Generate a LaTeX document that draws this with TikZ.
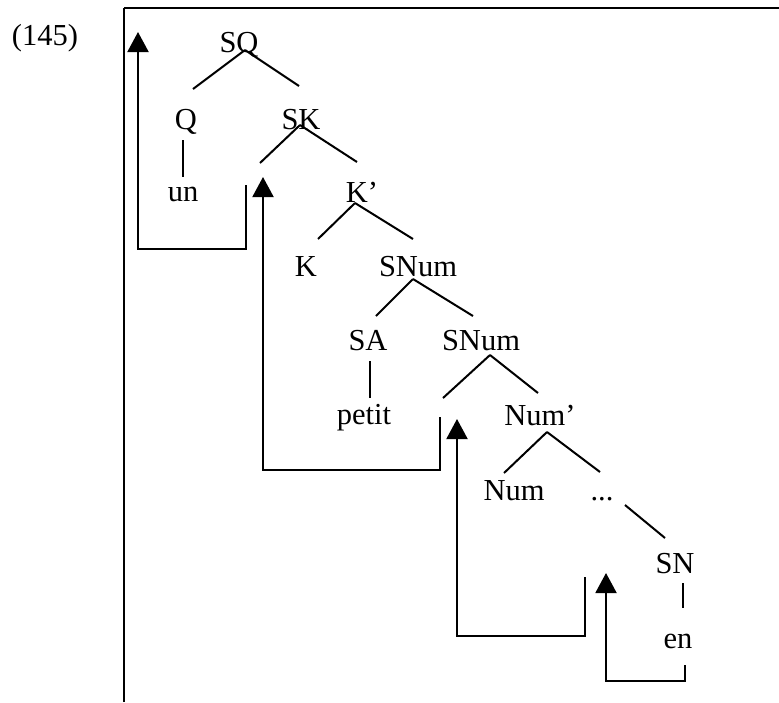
\documentclass[tikz,border=0pt]{standalone}
\usepackage{fontspec}
\setmainfont{Liberation Serif}
\usetikzlibrary{arrows.meta}
\tikzset{
  cat/.style = {
    inner sep=0pt, text height=8pt, text depth=0pt,
    anchor=south, font=\fontsize{12.2}{14}\selectfont
  },
  branch/.style = {line width=0.8pt},
  move/.style = {line width=0.8pt, -{Triangle[width=8.4pt,length=8pt]}},
  frame/.style = {line width=0.9pt}
}

\begin{document}
\begin{tikzpicture}[x=0.4pt, y=-0.4pt]
  \useasboundingbox (0,0) rectangle (779,702);
  % Frame and example number
  \coordinate (fbl) at (124,702);
  \coordinate (ftl) at (124,8);
  \coordinate (ftr) at (779,8);
  \draw[frame] (fbl) -- (ftl);
  \draw[frame] (ftl) -- (ftr);
  \node[cat] (ex) at (45,46) {(145)};

  % Categories
  \node[cat] (SQ)    at (239,53)  {SQ};
  \node[cat] (Q)     at (186,130) {Q};
  \node[cat] (SK)    at (301,130) {SK};
  \node[cat] (un)    at (183,202) {un};
  \node[cat] (Kbar)  at (362,203) {K’};
  \node[cat] (K)     at (306,277) {K};
  \node[cat] (SNumA) at (418,277) {SNum};
  \node[cat] (SA)    at (368,351) {SA};
  \node[cat] (SNumB) at (481,351) {SNum};
  \node[cat] (petit) at (364,425) {petit};
  \node[cat] (Numbar) at (540,426) {Num’};
  \node[cat] (Num)   at (514,501) {Num};
  \node[cat] (dots)  at (602,501) {...};
  \node[cat] (SN)    at (675,574) {SN};
  \node[cat] (en)    at (678,649) {en};

  % Empty positions
  \coordinate (tK)   at (260,163);
  \coordinate (tNum) at (443,398);

  % Branches
  \draw[branch] ([shift={(6,-3)}]SQ.south) -- ([shift={(7,-20)}]Q.north);
  \draw[branch] ([shift={(6,-3)}]SQ.south) -- ([shift={(-2,-23)}]SK.north);
  \draw[branch] ([shift={(-3,10)}]Q.south) -- ([shift={(0,-4)}]un.north);
  \draw[branch] ([shift={(-1,-5)}]SK.south) -- (tK);
  \draw[branch] ([shift={(-1,-5)}]SK.south) -- ([shift={(-5,-20)}]Kbar.north);
  \draw[branch] ([shift={(-7,0)}]Kbar.south) -- ([shift={(12,-17)}]K.north);
  \draw[branch] ([shift={(-7,0)}]Kbar.south) -- ([shift={(-5,-17)}]SNumA.north);
  \draw[branch] ([shift={(-5,2)}]SNumA.south) -- ([shift={(8,-14)}]SA.north);
  \draw[branch] ([shift={(-5,2)}]SNumA.south) -- ([shift={(-8,-14)}]SNumB.north);
  \draw[branch] ([shift={(2,10)}]SA.south) -- ([shift={(6,-6)}]petit.north);
  \draw[branch] ([shift={(9,4)}]SNumB.south) -- (tNum);
  \draw[branch] ([shift={(9,4)}]SNumB.south) -- ([shift={(-2,-12)}]Numbar.north);
  \draw[branch] ([shift={(7,6)}]Numbar.south) -- ([shift={(-10,-7)}]Num.north);
  \draw[branch] ([shift={(7,6)}]Numbar.south) -- ([shift={(-2,-8)}]dots.north);
  \draw[branch] ([shift={(23,4)}]dots.south) -- ([shift={(-10,-15)}]SN.north);
  \draw[branch] ([shift={(8,9)}]SN.south) -- ([shift={(5,-20)}]en.north);

  % Movement arrows
  \coordinate (m1s) at (246,185); \coordinate (m1b) at (246,249); \coordinate (m1t) at (138,32);
  \coordinate (m2s) at (440,417); \coordinate (m2b) at (440,470); \coordinate (m2t) at (263,177);
  \coordinate (m3s) at (585,577); \coordinate (m3b) at (585,636); \coordinate (m3t) at (457,419);
  \coordinate (m4s) at (685,665); \coordinate (m4b) at (685,681); \coordinate (m4t) at (606,573);
  \draw[move] (m1s) -- (m1b) -| (m1t);
  \draw[move] (m2s) -- (m2b) -| (m2t);
  \draw[move] (m3s) -- (m3b) -| (m3t);
  \draw[move] (m4s) -- (m4b) -| (m4t);
\end{tikzpicture}
\end{document}
